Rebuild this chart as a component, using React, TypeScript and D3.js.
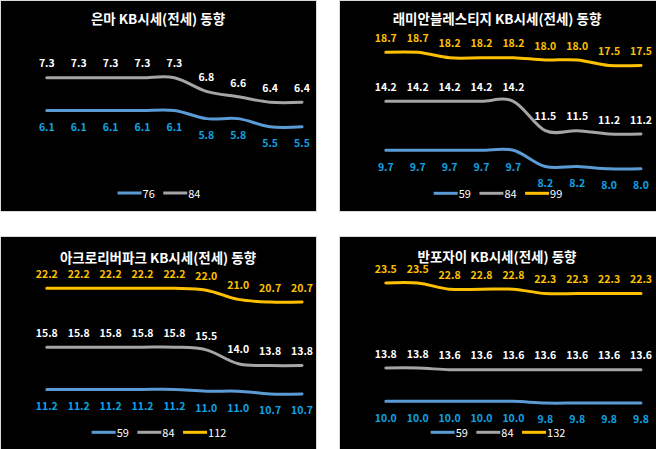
import React from "react";
import * as d3 from "d3";

// ---- data ----
const periods = ["P1", "P2", "P3", "P4", "P5", "P6", "P7", "P8", "P9"];

const titles = [
  "은마 KB시세(전세) 동향",
  "래미안블레스티지 KB시세(전세) 동향",
  "아크로리버파크 KB시세(전세) 동향",
  "반포자이 KB시세(전세) 동향",
];

// 은마
const eunma76 = [6.1, 6.1, 6.1, 6.1, 6.1, 5.8, 5.8, 5.5, 5.5];
const eunma84 = [7.3, 7.3, 7.3, 7.3, 7.3, 6.8, 6.6, 6.4, 6.4];
// 래미안블레스티지
const raemian59 = [9.7, 9.7, 9.7, 9.7, 9.7, 8.2, 8.2, 8.0, 8.0];
const raemian84 = [14.2, 14.2, 14.2, 14.2, 14.2, 11.5, 11.5, 11.2, 11.2];
const raemian99 = [18.7, 18.7, 18.2, 18.2, 18.2, 18.0, 18.0, 17.5, 17.5];
// 아크로리버파크
const acro59 = [11.2, 11.2, 11.2, 11.2, 11.2, 11.0, 11.0, 10.7, 10.7];
const acro84 = [15.8, 15.8, 15.8, 15.8, 15.8, 15.5, 14.0, 13.8, 13.8];
const acro112 = [22.2, 22.2, 22.2, 22.2, 22.2, 22.0, 21.0, 20.7, 20.7];
// 반포자이
const banpo59 = [10.0, 10.0, 10.0, 10.0, 10.0, 9.8, 9.8, 9.8, 9.8];
const banpo84 = [13.8, 13.8, 13.6, 13.6, 13.6, 13.6, 13.6, 13.6, 13.6];
const banpo132 = [23.5, 23.5, 22.8, 22.8, 22.8, 22.3, 22.3, 22.3, 22.3];

// hidden value-axis bounds per chart
const axisMin = [4.5, 6, 8, 8];
const axisMax = [8, 20, 24, 25];

// ---- styles ----
const BLUE = "#5B9BD5";
const GREY = "#A5A5A5";
const GOLD = "#FFC000";
const BLUE_LABEL = "#0FA3E6";
const FONT = "'Noto Sans CJK KR', 'Noto Sans', sans-serif";

type Series = { name: string; values: number[]; color: string; labelColor: string; above: boolean };

const charts: { title: string; series: Series[] }[] = [
  {
    title: titles[0],
    series: [
      { name: "76", values: eunma76, color: BLUE, labelColor: BLUE_LABEL, above: false },
      { name: "84", values: eunma84, color: GREY, labelColor: "#FFFFFF", above: true },
    ],
  },
  {
    title: titles[1],
    series: [
      { name: "59", values: raemian59, color: BLUE, labelColor: BLUE_LABEL, above: false },
      { name: "84", values: raemian84, color: GREY, labelColor: "#FFFFFF", above: true },
      { name: "99", values: raemian99, color: GOLD, labelColor: GOLD, above: true },
    ],
  },
  {
    title: titles[2],
    series: [
      { name: "59", values: acro59, color: BLUE, labelColor: BLUE_LABEL, above: false },
      { name: "84", values: acro84, color: GREY, labelColor: "#FFFFFF", above: true },
      { name: "112", values: acro112, color: GOLD, labelColor: GOLD, above: true },
    ],
  },
  {
    title: titles[3],
    series: [
      { name: "59", values: banpo59, color: BLUE, labelColor: BLUE_LABEL, above: false },
      { name: "84", values: banpo84, color: GREY, labelColor: "#FFFFFF", above: true },
      { name: "132", values: banpo132, color: GOLD, labelColor: GOLD, above: true },
    ],
  },
];

// layout per panel
const panels = [
  { x: 0, y: 0, w: 317, h: 212, top: 58.6, bottom: 154.1, titleY: 18, legendY: 193 },
  { x: 339, y: 0, w: 318, h: 212, top: 38.2, bottom: 190.5, titleY: 18, legendY: 193.3 },
  { x: 0, y: 236, w: 317, h: 214, top: 35.8, bottom: 182.8, titleY: 20.5, legendY: 196.3 },
  { x: 339, y: 236, w: 318, h: 214, top: 33.9, bottom: 182.8, titleY: 20, legendY: 196.3 },
];

function Panel({ idx }: { idx: number }) {
  const p = panels[idx];
  const c = charts[idx];
  const x = d3.scalePoint<string>().domain(periods).range([46.8, 302]);
  const y = d3.scaleLinear().domain([axisMin[idx], axisMax[idx]]).range([p.bottom, p.top]);
  const line = d3
    .line<number>()
    .x((_, i) => x(periods[i]) as number)
    .y((v) => y(v))
    .curve(d3.curveCardinal.tension(0));

  // legend layout
  const lineLen = 24;
  const charW = 6.1;
  const gap = 8.5;
  const items = c.series.map((s) => ({ s, w: lineLen + 1 + s.name.length * charW }));
  const total = items.reduce((a, b) => a + b.w, 0) + gap * (items.length - 1);
  let cur = 159 - total / 2;
  const legendItems = items.map((it) => {
    const start = cur;
    cur += it.w + gap;
    return { ...it, start };
  });

  return (
    <g transform={`translate(${p.x},${p.y})`}>
      <rect x={0.5} y={0.5} width={p.w - 1} height={p.h - 1} fill="#000" stroke="#D9D9D9" strokeWidth={1} />
      <text
        x={158}
        y={p.titleY}
        textAnchor="middle"
        dominantBaseline="central"
        fill="#FFFFFF"
        fontFamily={FONT}
        fontWeight="bold"
        fontSize={13.5}
      >
        {c.title}
      </text>
      {c.series.map((s) => (
        <path
          key={"l" + s.name}
          d={line(s.values) || ""}
          fill="none"
          stroke={s.color}
          strokeWidth={3}
          strokeLinecap="round"
        />
      ))}
      {c.series.map((s) =>
        s.values.map((v, i) => (
          <text
            key={s.name + "-" + i}
            x={x(periods[i]) as number}
            y={y(v) + (s.above ? -14.8 : 15.8)}
            textAnchor="middle"
            dominantBaseline="central"
            fill={s.labelColor}
            fontFamily={FONT}
            fontWeight="bold"
            fontSize={10.5}
          >
            {v.toFixed(1)}
          </text>
        ))
      )}
      {legendItems.map((it) => (
        <g key={"lg" + it.s.name}>
          <line
            x1={it.start}
            x2={it.start + lineLen}
            y1={p.legendY}
            y2={p.legendY}
            stroke={it.s.color}
            strokeWidth={3}
          />
          <text
            x={it.start + lineLen + 1}
            y={p.legendY}
            dominantBaseline="central"
            fill="#FFFFFF"
            fontFamily={FONT}
            fontSize={11}
          >
            {it.s.name}
          </text>
        </g>
      ))}
    </g>
  );
}

export default function App() {
  return (
    <svg
      width={656}
      height={449}
      style={{ position: "absolute", left: 0, top: 0, background: "#FFFFFF" }}
    >
      {charts.map((_, i) => (
        <Panel key={i} idx={i} />
      ))}
    </svg>
  );
}
